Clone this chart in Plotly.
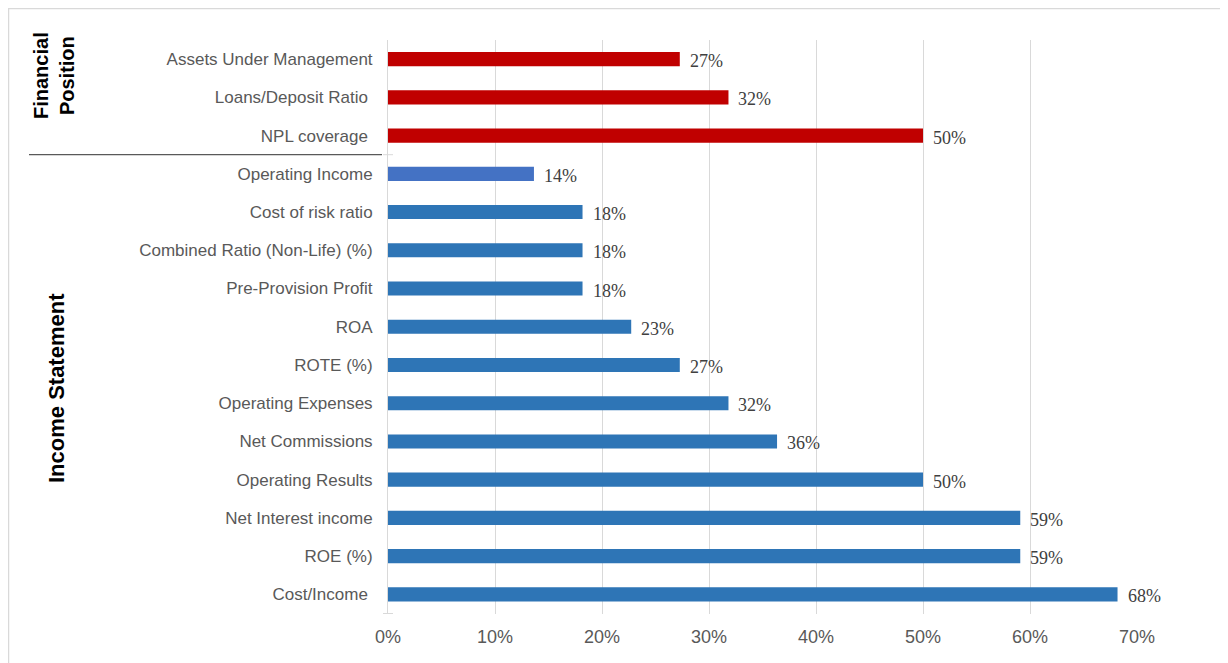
import plotly.graph_objects as go

categories = ["Assets Under Management", "Loans/Deposit Ratio ", "NPL coverage ",
              "Operating Income", "Cost of risk ratio", "Combined Ratio (Non-Life) (%)",
              "Pre-Provision Profit", "ROA", "ROTE (%)", "Operating Expenses",
              "Net Commissions", "Operating Results", "Net Interest income", "ROE (%)",
              "Cost/Income "]
values = [0.2727, 0.3182, 0.5, 0.1364, 0.1818, 0.1818, 0.1818, 0.2273, 0.2727,
          0.3182, 0.3636, 0.5, 0.5909, 0.5909, 0.6818]
groups = ["fp"] * 3 + ["is_first"] + ["is"] * 11
x_ticks = [0, 0.1, 0.2, 0.3, 0.4, 0.5, 0.6, 0.7]
x_tick_labels = ["0%", "10%", "20%", "30%", "40%", "50%", "60%", "70%"]

color_map = {"fp": "#C00000", "is_first": "#4472C4", "is": "#2E75B6"}
colors = [color_map[g] for g in groups]

W, H = 1220, 655
L, R, T, B = 380, 91, 32, 49
PW, PH = W - L - R, H - T - B


def px(xpix):
    return (xpix - L) / PW


def py(ypix):
    return 1 - (ypix - T) / PH


fig = go.Figure()
fig.add_trace(go.Bar(
    x=values, y=categories, orientation="h",
    marker=dict(color=colors, line=dict(width=0)),
    width=0.37, hoverinfo="x+y",
))

for c, v in zip(categories, values):
    fig.add_annotation(x=v, y=c, text=f"{round(v * 100):d}%", showarrow=False,
                       xanchor="left", xshift=8, yshift=-2,
                       font=dict(family="Liberation Serif", size=18, color="#404040"))

fig.update_layout(
    width=W, height=H,
    margin=dict(l=L, r=R, t=T, b=B),
    paper_bgcolor="white", plot_bgcolor="white",
    showlegend=False,
    xaxis=dict(range=[0, 0.7], tickvals=x_ticks, ticktext=x_tick_labels,
               showgrid=True, gridcolor="#D9D9D9", gridwidth=1,
               zeroline=False, showline=False, ticks="",
               tickfont=dict(family="Liberation Sans", size=18, color="#595959"),
               ticklabelstandoff=10),
    yaxis=dict(autorange="reversed", showgrid=False, zeroline=False,
               showline=True, linecolor="#D9D9D9", linewidth=1, ticks="",
               tickfont=dict(family="Liberation Sans", size=17, color="#595959"),
               ticklabelstandoff=11),
)

# outer chart border
fig.add_shape(type="rect", xref="paper", yref="paper",
              x0=px(0.5), x1=px(1218), y0=py(H + 20), y1=py(0.5),
              line=dict(color="#D9D9D9", width=1.5), fillcolor="rgba(0,0,0,0)", layer="below")

# separator line between groups
fig.add_shape(type="line", xref="paper", yref="y",
              x0=px(21), x1=px(374), y0=2.5, y1=2.5,
              line=dict(color="#595959", width=1.2))
fig.add_shape(type="line", xref="paper", yref="y",
              x0=px(375), x1=px(385), y0=2.5, y1=2.5,
              line=dict(color="#D9D9D9", width=1))
fig.add_shape(type="line", xref="paper", yref="y",
              x0=px(375), x1=px(385), y0=14.5, y1=14.5,
              line=dict(color="#D9D9D9", width=1))

fig.add_annotation(xref="paper", yref="paper", x=px(46), y=py(68),
                   text="<b>Financial<br>Position</b>",
                   showarrow=False, textangle=-90, xanchor="center", yanchor="middle",
                   font=dict(family="Liberation Sans", size=20, color="black"))
fig.add_annotation(xref="paper", yref="paper", x=px(48), y=py(380),
                   text="<b>Income Statement</b>",
                   showarrow=False, textangle=-90, xanchor="center", yanchor="middle",
                   font=dict(family="Liberation Sans", size=22, color="black"))

fig.write_html("out.html")
